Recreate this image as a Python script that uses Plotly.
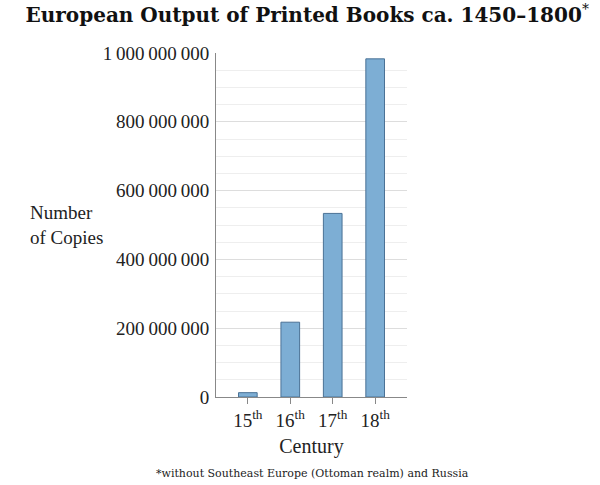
import plotly.graph_objects as go

centuries = ["15<sup>th</sup>", "16<sup>th</sup>", "17<sup>th</sup>", "18<sup>th</sup>"]
copies = [12589000, 217444000, 533681000, 983035000]
y_ticks = [0, 200000000, 400000000, 600000000, 800000000, 1000000000]

serif = "Liberation Serif"

fig = go.Figure()
fig.add_trace(go.Bar(
    x=list(range(len(centuries))), y=copies, width=0.44,
    marker=dict(color="#7daed4", line=dict(color="#4b7296", width=1)),
))

fig.update_layout(
    width=600, height=485,
    margin=dict(l=216, r=193, t=53, b=88),
    paper_bgcolor="white", plot_bgcolor="white",
    separators=".\u2009",
    showlegend=False,
    font=dict(family=serif, color="#222"),
    title=dict(
        text="<b>European Output of Printed Books ca. 1450–1800</b><sup>*</sup>",
        x=0.512, xanchor="center", y=0.969, yanchor="middle",
        font=dict(family="DejaVu Serif", size=20, color="#111"),
    ),
    xaxis=dict(
        range=[-0.75, 3.75],
        tickvals=list(range(len(centuries))), ticktext=centuries,
        showgrid=False, zeroline=False,
        showline=True, linecolor="#888", linewidth=1,
        ticks="outside", ticklen=6, tickcolor="#888",
        tickfont=dict(family=serif, size=19, color="#222"),
        title=dict(text="Century", font=dict(family=serif, size=20, color="#222"), standoff=9),
    ),
    yaxis=dict(
        range=[0, 1000000000],
        tickvals=y_ticks, tickformat=",d",
        showgrid=True, gridcolor="#dddddd", gridwidth=1,
        minor=dict(dtick=50000000, showgrid=True, gridcolor="#eeeeee", gridwidth=1),
        zeroline=False,
        showline=True, linecolor="#888", linewidth=1,
        ticks="", ticklabelstandoff=2,
        tickfont=dict(family=serif, size=19, color="#222"),
    ),
    annotations=[
        dict(text="Number<br>of Copies", xref="paper", yref="paper",
             x=(28 - 216) / 191, y=(397 - 225) / 344, xanchor="left", yanchor="middle", align="left",
             showarrow=False, font=dict(family=serif, size=19, color="#222")),
        dict(text="*without Southeast Europe (Ottoman realm) and Russia",
             xref="paper", yref="paper", x=(312 - 216) / 191, y=(397 - 473) / 344,
             xanchor="center", yanchor="middle", showarrow=False,
             font=dict(family="DejaVu Serif", size=11, color="#222")),
    ],
)

fig.write_html("out.html", config={"displayModeBar": False},
               post_script="document.body.style.margin='0';")
